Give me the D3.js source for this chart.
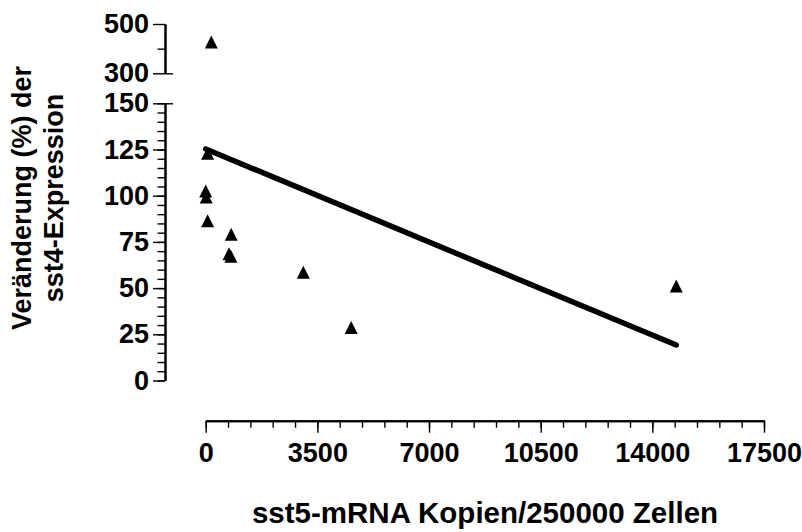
<!DOCTYPE html>
<html>
<head>
<meta charset="utf-8">
<script src="https://cdn.jsdelivr.net/npm/d3@7"></script>
<style>
  body { margin: 0; background: #fff; }
  svg text { font-family: "Liberation Sans", Arial, sans-serif; font-weight: bold; fill: #000; }
</style>
</head>
<body>
<div class="visualisation"></div>
<script>
// data
var copies = [175, 60, 0, 15, 60, 800, 730, 790, 3060, 4560, 14750];
var change = [427, 123, 102.5, 99.3, 86.5, 79.2, 68.6, 67.2, 58.6, 28.7, 51.2];
var fitX = [0, 14750];
var fitY = [125.3, 19.2];
var xTicks = [0, 3500, 7000, 10500, 14000, 17500];
var yLowTicks = [0, 25, 50, 75, 100, 125, 150];
var yHighTicks = [300, 500];

var width = 802, height = 532;

var svg = d3.select(".visualisation").append("svg")
    .attr("width", width)
    .attr("height", height);

var x = d3.scaleLinear().domain([0, 17500]).range([205.7, 764]);
var yLow = d3.scaleLinear().domain([0, 150]).range([380.5, 103.3]);
var yHigh = d3.scaleLinear().domain([300, 500]).range([73.3, 24]);

function yPos(v) { return v > 150 ? yHigh(v) : yLow(v); }

function styleAxis(g, fs) {
  g.selectAll("path, line").attr("stroke", "#000");
  g.select(".domain").attr("stroke-width", 2);
  g.selectAll(".tick line").attr("stroke-width", 1.4);
  g.selectAll("text").attr("font-size", fs)
    .attr("font-family", "Liberation Sans, Arial, sans-serif")
    .attr("font-weight", "bold");
}

// x axis
var xMinor = svg.append("g")
    .attr("transform", "translate(0,420.7)")
    .call(d3.axisBottom(x).tickValues(d3.range(0, 17501, 700)).tickSize(7).tickSizeOuter(0).tickFormat(""));
styleAxis(xMinor, 27);
var xAxis = svg.append("g")
    .attr("transform", "translate(0,420.7)")
    .call(d3.axisBottom(x).tickValues(xTicks).tickSize(12).tickSizeOuter(0).tickPadding(10).tickFormat(d3.format("d")));
styleAxis(xAxis, 27);

// lower y segment
var yMinor = svg.append("g")
    .attr("transform", "translate(165,0)")
    .call(d3.axisLeft(yLow).tickValues(d3.range(0, 151, 5)).tickSize(7.5).tickSizeOuter(0).tickFormat(""));
styleAxis(yMinor, 27);
var yAxisLow = svg.append("g")
    .attr("transform", "translate(165,0)")
    .call(d3.axisLeft(yLow).tickValues(yLowTicks).tickSize(12).tickSizeOuter(0).tickPadding(4));
styleAxis(yAxisLow, 27);

// upper y segment
var yMinorHigh = svg.append("g")
    .attr("transform", "translate(165,0)")
    .call(d3.axisLeft(yHigh).tickValues([400]).tickSize(7.5).tickSizeOuter(0).tickFormat(""));
styleAxis(yMinorHigh, 27);
var yAxisHigh = svg.append("g")
    .attr("transform", "translate(165,0)")
    .call(d3.axisLeft(yHigh).tickValues(yHighTicks).tickSize(12).tickSizeOuter(0).tickPadding(4));
styleAxis(yAxisHigh, 27);

// break marks: the ticks at 150 and 300 also reach right
[[yLow, 150], [yHigh, 300]].forEach(function(b) {
  var g = svg.append("g")
      .attr("transform", "translate(165,0)")
      .call(d3.axisRight(b[0]).tickValues([b[1]]).tickSize(8).tickSizeOuter(0).tickFormat(""));
  g.select(".domain").remove();
  g.selectAll("line").attr("stroke", "#000").attr("stroke-width", 1.4);
});

// regression line
var line = d3.line()
    .x(function(d) { return x(d[0]); })
    .y(function(d) { return yLow(d[1]); });

svg.append("path")
    .datum(d3.zip(fitX, fitY))
    .attr("d", line)
    .attr("fill", "none")
    .attr("stroke", "#000")
    .attr("stroke-width", 5.5)
    .attr("stroke-linecap", "round");

// triangles
var triangle = {
  draw: function(context, size) {
    var r = Math.sqrt(size) / 2;
    context.moveTo(0, -r);
    context.lineTo(r, r);
    context.lineTo(-r, r);
    context.closePath();
  }
};

svg.append("g").selectAll("path")
    .data(d3.zip(copies, change))
  .enter().append("path")
    .attr("d", d3.symbol(triangle).size(169))
    .attr("transform", function(d) { return "translate(" + x(d[0]) + "," + yPos(d[1]) + ")"; })
    .attr("fill", "#000");

// axis titles
svg.append("text")
    .attr("x", 485)
    .attr("y", 523)
    .attr("text-anchor", "middle")
    .attr("font-size", 29.5)
    .text("sst5-mRNA Kopien/250000 Zellen");

var yTitle = svg.append("g")
    .attr("transform", "translate(0,198) rotate(-90)");
yTitle.append("text")
    .attr("x", 0).attr("y", 31)
    .attr("text-anchor", "middle")
    .attr("font-size", 27)
    .text("Veränderung (%) der");
yTitle.append("text")
    .attr("x", 0).attr("y", 63)
    .attr("text-anchor", "middle")
    .attr("font-size", 27)
    .text("sst4-Expression");
</script>
</body>
</html>
